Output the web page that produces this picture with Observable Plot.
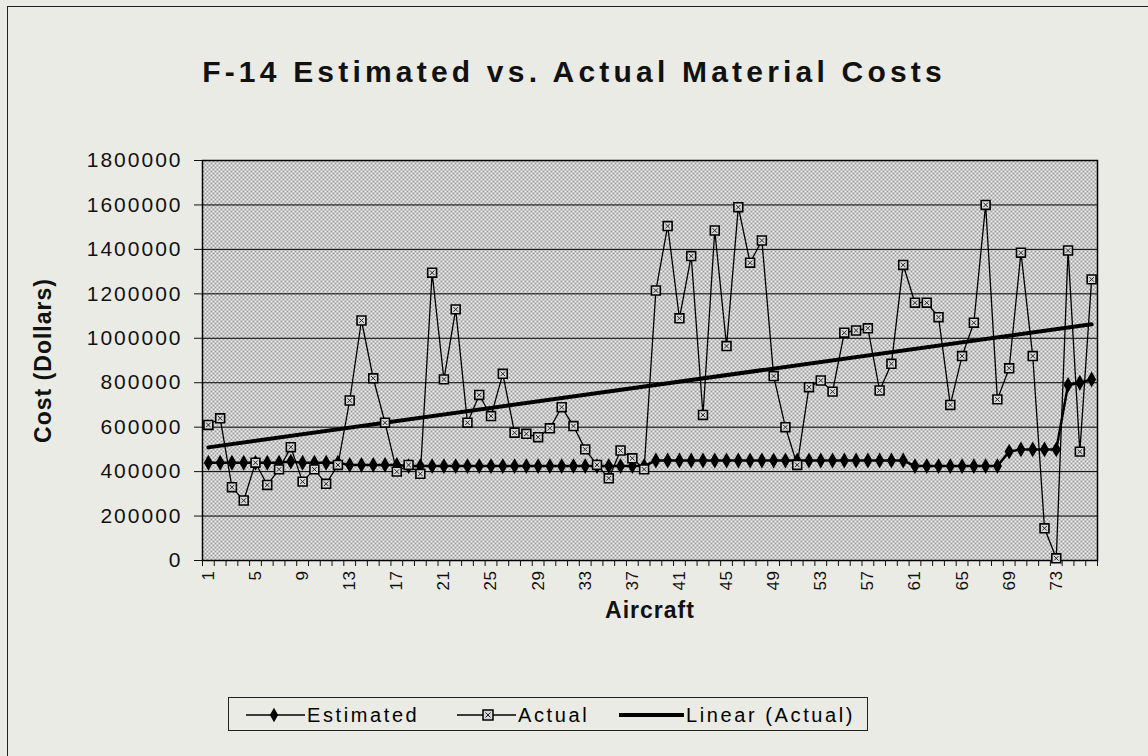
<!DOCTYPE html>
<html>
<head>
<meta charset="utf-8">
<script src="https://cdn.jsdelivr.net/npm/d3@7"></script>
<script src="https://cdn.jsdelivr.net/npm/@observablehq/plot@0.6"></script>
<style>
  body { margin: 0; background: #ebebe5; font-family: Arial, "Liberation Sans", sans-serif; }
  #wrap { position: relative; width: 1148px; height: 756px; overflow: hidden; background: #ebebe5; }
  #border { position: absolute; left: 7px; top: 6px; width: 1200px; height: 800px; border: 1.5px solid #222; box-sizing: border-box; }
  #title { position: absolute; top: 55px; left: 0; width: 1148px; text-align: center; font-weight: bold; font-size: 30px; letter-spacing: 4.2px; color: #111; }
  #chart { position: absolute; top: 120px; left: 0; }
  #legend { position: absolute; left: 228px; top: 697px; width: 640px; height: 34px; border: 1.5px solid #222; box-sizing: border-box; }
  #legend svg { position: absolute; left: 0; top: 0; }
  #chart svg { overflow: visible; }
  #chart g[aria-label="y-axis tick label"] text { letter-spacing: 2px; }
  #chart g[aria-label="x-axis tick label"] text { letter-spacing: 0.5px; }
  #chart g[aria-label="x-axis label"] text, #chart g[aria-label="y-axis label"] text { font-weight: bold; font-size: 23px; letter-spacing: 1px; }
</style>
</head>
<body>
<div id="wrap">
  <div id="border"></div>
  <div id="title">F-14 Estimated vs. Actual Material Costs</div>
  <div id="chart"></div>
  <div id="legend"></div>
</div>
<script>
// ---- data ----
const aircraft = d3.range(1, 77);
const actual = [
  610000, 640000, 330000, 270000, 440000, 340000, 410000, 510000, 355000, 410000,
  345000, 430000, 720000, 1080000, 820000, 620000, 400000, 430000, 390000, 1295000,
  815000, 1130000, 620000, 745000, 650000, 840000, 575000, 570000, 555000, 595000,
  690000, 605000, 500000, 430000, 370000, 495000, 460000, 410000, 1215000, 1505000,
  1090000, 1370000, 655000, 1485000, 965000, 1590000, 1340000, 1440000, 830000, 600000,
  430000, 780000, 810000, 760000, 1025000, 1035000, 1045000, 765000, 885000, 1330000,
  1160000, 1160000, 1095000, 700000, 920000, 1070000, 1600000, 725000, 865000, 1385000,
  920000, 145000, 10000, 1395000, 490000, 1265000
];
const estimated = [
  440000, 440000, 440000, 440000, 440000, 440000, 440000, 445000, 440000, 440000,
  440000, 440000, 430000, 430000, 430000, 430000, 430000, 425000, 425000, 425000,
  425000, 425000, 425000, 425000, 425000, 425000, 425000, 425000, 425000, 425000,
  425000, 425000, 425000, 425000, 425000, 425000, 425000, 425000, 450000, 450000,
  450000, 450000, 450000, 450000, 450000, 450000, 450000, 450000, 450000, 450000,
  450000, 450000, 450000, 450000, 450000, 450000, 450000, 450000, 450000, 450000,
  425000, 425000, 425000, 425000, 425000, 425000, 425000, 425000, 490000, 500000,
  500000, 500000, 500000, 790000, 800000, 815000
];
const yTicks = [0, 200000, 400000, 600000, 800000, 1000000, 1200000, 1400000, 1600000, 1800000];
const xLabelTicks = [1, 5, 9, 13, 17, 21, 25, 29, 33, 37, 41, 45, 49, 53, 57, 61, 65, 69, 73];

const rowsA = aircraft.map((a, i) => ({aircraft: a, cost: actual[i]}));
const rowsE = aircraft.map((a, i) => ({aircraft: a, cost: estimated[i]}));

const chart = Plot.plot({
  width: 1148,
  height: 520,
  marginTop: 40,
  marginBottom: 80,
  marginLeft: 202,
  marginRight: 51,
  style: {background: "transparent", fontFamily: "Arial, 'Liberation Sans', sans-serif", color: "#111"},
  x: {domain: [0.5, 76.5]},
  y: {domain: [0, 1800000]},
  marks: [
    Plot.frame({fill: "url(#stipple)", stroke: null}),
    Plot.gridY(yTicks, {stroke: "#000", strokeOpacity: 1, strokeWidth: 1}),
    Plot.frame({stroke: "#000", strokeWidth: 1.5}),
    Plot.axisY(yTicks, {tickSize: 8, tickPadding: 12, tickFormat: d3.format("d"), fontSize: 21,
      label: "Cost (Dollars)", labelAnchor: "center", labelOffset: 168, labelArrow: "none"}),
    Plot.axisX(d3.range(0.5, 77, 1), {tickSize: 6, tickFormat: () => "", label: null}),
    Plot.axisX(xLabelTicks, {tickSize: 0, tickPadding: 10, tickRotate: -90, fontSize: 17,
      label: "Aircraft", labelAnchor: "center", labelOffset: 57, labelArrow: "none"}),
    Plot.line(rowsE, {x: "aircraft", y: "cost", stroke: "#000", strokeWidth: 2.5}),
    Plot.dot(rowsE, {x: "aircraft", y: "cost", symbol: "diamond", r: 4.8, fill: "#000", stroke: "none"}),
    Plot.line(rowsA, {x: "aircraft", y: "cost", stroke: "#000", strokeWidth: 1.3}),
    Plot.linearRegressionY(rowsA, {x: "aircraft", y: "cost", stroke: "#000", strokeWidth: 4, ci: 0}),
    Plot.dot(rowsA, {x: "aircraft", y: "cost", symbol: "square", r: 5, fill: "#d8d8d8", stroke: "#000", strokeWidth: 1.6}),
    Plot.dot(rowsA, {x: "aircraft", y: "cost", symbol: "times", r: 2.2, stroke: "#222", strokeWidth: 1})
  ]
});

const ns = "http://www.w3.org/2000/svg";
const defs = document.createElementNS(ns, "defs");
defs.innerHTML = `<pattern id="stipple" width="4" height="4" patternUnits="userSpaceOnUse">
  <rect width="4" height="4" fill="#f4f4f4"/>
  <rect x="0" y="0" width="2" height="2" fill="#9a9a9a"/>
  <rect x="2" y="2" width="2" height="2" fill="#9a9a9a"/>
</pattern>`;
chart.insertBefore(defs, chart.firstChild);
document.getElementById("chart").appendChild(chart);

// ---- legend ----
const leg = d3.select("#legend").append("svg").attr("width", 640).attr("height", 34)
  .style("font-family", "Arial, 'Liberation Sans', sans-serif").style("font-size", "20px");
const cy = 17;
// Estimated
leg.append("line").attr("x1", 17).attr("x2", 76).attr("y1", cy).attr("y2", cy).attr("stroke", "#000").attr("stroke-width", 1.5);
leg.append("path").attr("d", d3.symbol(d3.symbolDiamond, 60)()).attr("transform", `translate(45,${cy})`).attr("fill", "#000");
leg.append("text").attr("x", 78).attr("y", cy + 7).attr("letter-spacing", "2.6px").text("Estimated");
// Actual
leg.append("line").attr("x1", 228).attr("x2", 287).attr("y1", cy).attr("y2", cy).attr("stroke", "#000").attr("stroke-width", 1.5);
leg.append("rect").attr("x", 254).attr("y", cy - 5).attr("width", 10).attr("height", 10).attr("fill", "#d8d8d8").attr("stroke", "#000").attr("stroke-width", 1.5);
leg.append("path").attr("d", "M256.5,14.5L261.5,19.5M261.5,14.5L256.5,19.5").attr("stroke", "#222").attr("stroke-width", 1);
leg.append("text").attr("x", 289).attr("y", cy + 7).attr("letter-spacing", "2.6px").text("Actual");
// Linear
leg.append("line").attr("x1", 390).attr("x2", 455).attr("y1", cy).attr("y2", cy).attr("stroke", "#000").attr("stroke-width", 4);
leg.append("text").attr("x", 457).attr("y", cy + 7).attr("letter-spacing", "2.6px").text("Linear (Actual)");
</script>
</body>
</html>
